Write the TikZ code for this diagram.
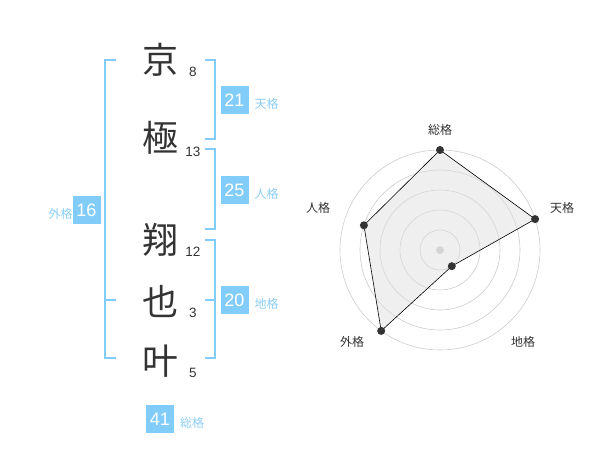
\documentclass[tikz,border=0pt]{standalone}
\usepackage{fontspec}
\setmainfont{Liberation Sans}
\newfontfamily\cjk{Noto Sans CJK JP}
\definecolor{kakublue}{RGB}{130,204,250}
\definecolor{kakutext}{RGB}{140,206,246}
\definecolor{inkgray}{RGB}{51,51,51}
\begin{document}
\begin{tikzpicture}[x=1pt,y=-1pt,inner sep=0pt,outer sep=0pt,
kanji/.style={font=\cjk\fontsize{36}{36}\selectfont,text=inkgray},
strokes/.style={font=\fontsize{13.5}{13.5}\selectfont,text=inkgray},
kakubox/.style={fill=kakublue,text=white,minimum width=28pt,minimum height=28pt,font=\fontsize{18}{18}\selectfont},
kakuname/.style={font=\cjk\fontsize{12}{12}\selectfont,text=kakutext,right=6pt,yshift=-3.5pt},
bracket/.style={draw=kakublue,line width=2pt},
ring/.style={draw=gray!40,line width=0.6pt},
axisname/.style={font=\cjk\fontsize{12}{12}\selectfont,text=inkgray},
dot/.style={circle,fill=inkgray,minimum size=8pt}]
\useasboundingbox (0,0) rectangle (600,470);
\draw (160,60) node[kanji] (c1) {京};
\draw (160,138) node[kanji] (c2) {極};
\draw (160,240) node[kanji] (c3) {翔};
\draw (160,301) node[kanji] (c4) {也};
\draw (160,361) node[kanji] (c5) {叶};
\draw (193,72) node[strokes] (n1) {8};
\draw (193,152) node[strokes] (n2) {13};
\draw (193,252) node[strokes] (n3) {12};
\draw (193,313) node[strokes] (n4) {3};
\draw (193,373) node[strokes] (n5) {5};
\draw[bracket] (205,60) -- (215,60) -- (215,139) -- (205,139);
\draw[bracket] (205,149) -- (215,149) -- (215,229.5) -- (205,229.5);
\draw[bracket] (205,240) -- (215,240) -- (215,358.5) -- (205,358.5);
\draw[bracket] (205,300) -- (215,300);
\draw[bracket] (116,60) -- (105,60) -- (105,358.5) -- (116,358.5);
\draw[bracket] (105,300) -- (116,300);
\draw (234.5,100) node[kakubox] (ten) {21} (ten.east) node[kakuname] {天格};
\draw (234.5,190) node[kakubox] (jin) {25} (jin.east) node[kakuname] {人格};
\draw (234.5,300) node[kakubox] (chi) {20} (chi.east) node[kakuname] {地格};
\draw (86.5,210) node[kakubox] (gai) {16} (gai.west) node[kakuname,left=6pt] {外格};
\draw (160,419) node[kakubox] (sou) {41} (sou.east) node[kakuname] {総格};
\coordinate (c) at (440,250);
\foreach \r in {20,40,60,80,100} \draw[ring] (c) circle (\r);
\fill[gray!40] (c) circle (4);
\coordinate (pSou) at (440,150);
\coordinate (pTen) at (535.1,219.1);
\coordinate (pChi) at (451.8,266.2);
\coordinate (pGai) at (381.2,330.9);
\coordinate (pJin) at (363.9,225.3);
\draw[fill=gray!25,fill opacity=0.5,draw=black,line width=0.6pt] (pSou) -- (pTen) -- (pChi) -- (pGai) -- (pJin) -- cycle;
\foreach \p in {pSou,pTen,pChi,pGai,pJin} \node[dot] at (\p) {};
\draw (440,130) node[axisname] {総格};
\draw (562,208) node[axisname] {天格};
\draw (523,342) node[axisname] {地格};
\draw (352,342) node[axisname] {外格};
\draw (318,208) node[axisname] {人格};
\end{tikzpicture}
\end{document}
